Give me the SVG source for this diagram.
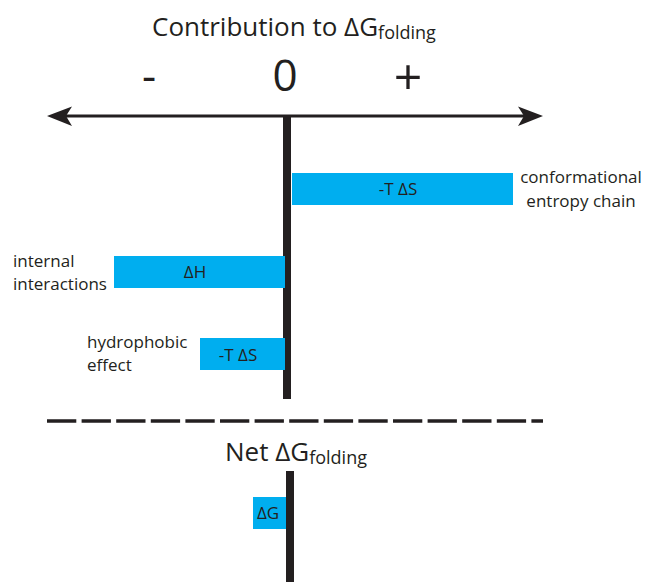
<svg xmlns="http://www.w3.org/2000/svg" width="645" height="582" viewBox="0 0 645 582">
<defs>
<style>
.t{font-family:"Open Sans","Liberation Sans",sans-serif;fill:#231F20;}
.bar{fill:#00AEEF;}
.ln{stroke:#231F20;fill:none;}
.ah{fill:#231F20;}
</style>
</defs>
<rect width="645" height="582" fill="#fff"/>
<g id="title">
<text class="t" x="152" y="36" font-size="26">Contribution to ΔG<tspan font-size="18" dy="3">folding</tspan></text>
<text class="t" x="149" y="91" font-size="44" text-anchor="middle">-</text>
<text class="t" x="285" y="91" font-size="44" text-anchor="middle">0</text>
<text class="t" x="408" y="95" font-size="50" text-anchor="middle">+</text>
</g>
<g id="connectors">
<line class="ln" x1="62" y1="116" x2="528" y2="116" stroke-width="3"/>
<path class="ah" d="M47,116 L72,106.5 L66,116 L72,126 Z"/>
<path class="ah" d="M543,116 L518,106.5 L524,116 L518,126 Z"/>
<line class="ln" x1="287" y1="115" x2="287" y2="399" stroke-width="8"/>
<line class="ln" x1="47" y1="421" x2="543" y2="421" stroke-width="3.5" stroke-dasharray="29.3 5.3"/>
<line class="ln" x1="290" y1="471" x2="290" y2="582" stroke-width="8"/>
</g>
<g id="conformational-entropy">
<rect class="bar" x="292" y="173" width="221" height="32"/>
<text class="t" x="398" y="195" font-size="17" text-anchor="middle">-T ΔS</text>
<text class="t" x="581" y="183" font-size="17" text-anchor="middle">conformational</text>
<text class="t" x="581" y="207" font-size="17" text-anchor="middle">entropy chain</text>
</g>
<g id="internal-interactions">
<rect class="bar" x="114" y="256" width="171" height="32"/>
<text class="t" x="195" y="278" font-size="17" text-anchor="middle">ΔH</text>
<text class="t" x="13" y="267" font-size="17">internal</text>
<text class="t" x="13" y="290" font-size="17">interactions</text>
</g>
<g id="hydrophobic-effect">
<rect class="bar" x="200" y="338" width="85" height="32"/>
<text class="t" x="238" y="361" font-size="17" text-anchor="middle">-T ΔS</text>
<text class="t" x="87" y="348" font-size="17">hydrophobic</text>
<text class="t" x="87" y="371" font-size="17">effect</text>
</g>
<g id="net">
<text class="t" x="225" y="461" font-size="26">Net ΔG<tspan font-size="18" dy="3">folding</tspan></text>
<rect class="bar" x="253" y="497" width="33" height="32"/>
<text class="t" x="268" y="519" font-size="17" text-anchor="middle">ΔG</text>
</g>
</svg>
